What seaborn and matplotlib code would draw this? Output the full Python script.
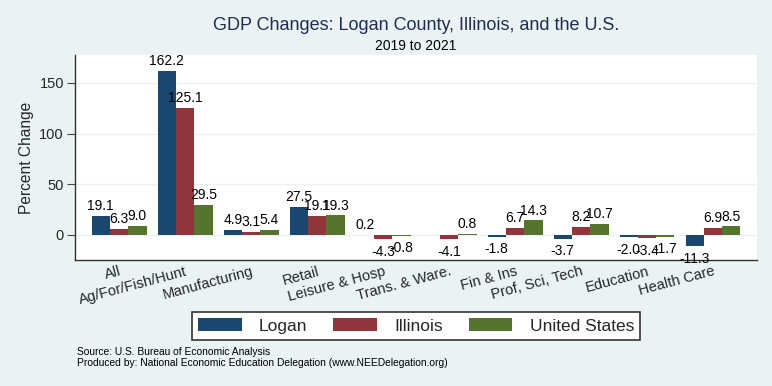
import numpy as np
import pandas as pd
import matplotlib
matplotlib.use("Agg")
from matplotlib import pyplot as plt
import seaborn as sns

sectors = ["All", "Ag/For/Fish/Hunt", "Manufacturing", "Retail", "Leisure & Hosp",
           "Trans. & Ware.", "Fin & Ins", "Prof, Sci, Tech", "Education", "Health Care"]
areas = ["Logan", "Illinois", "United States"]
logan = [19.1, 162.2, 4.9, 27.5, 0.2, np.nan, -1.8, -3.7, -2.0, -11.3]
illinois = [6.3, 125.1, 3.1, 19.1, -4.3, -4.1, 6.7, 8.2, -3.4, 6.9]
us = [9.0, 29.5, 5.4, 19.3, -0.8, 0.8, 14.3, 10.7, -1.7, 8.5]
colors = ["#1a476f", "#90353b", "#55752f"]

df = pd.DataFrame({"Sector": sectors * 3,
                   "Area": np.repeat(areas, len(sectors)),
                   "Change": logan + illinois + us})
df = df.dropna()

bg = "#eaf2f3"
sns.set_theme(style="white")
plt.rcParams["font.family"] = ["Liberation Sans", "DejaVu Sans"]

fig = plt.figure(figsize=(7.72, 3.86), dpi=100, facecolor=bg)
ax = fig.add_axes([0.0972, 0.3264, 0.8834, 0.5311])
ax.set_facecolor("white")

sns.barplot(data=df, x="Sector", y="Change", hue="Area", order=sectors,
            hue_order=areas, palette=colors, width=0.833, errorbar=None,
            saturation=1, edgecolor="none", linewidth=0, ax=ax, zorder=3)

for cont in ax.containers:
    vals = cont.datavalues
    pos = [f"{v:.1f}" if v >= 0 else "" for v in vals]
    neg = [f"{v:.1f}" if v < 0 else "" for v in vals]
    for t in ax.bar_label(cont, labels=pos, padding=2, fontsize=10, color="black"):
        t.set_zorder(6)
    for t in ax.bar_label(cont, labels=neg, padding=4, fontsize=10, color="black"):
        t.set_zorder(6)
        t.set_clip_on(False)

ax.set_xlim(-0.667, 9.667)
ax.set_ylim(-24.7, 177.6)
ax.set_yticks([0, 50, 100, 150])
ax.grid(axis="y", color=bg, linewidth=1, zorder=0)
ax.tick_params(axis="y", labelsize=10.5, length=6, width=0.8, color="#444444",
               left=True, pad=2)
ax.tick_params(axis="x", length=0, pad=3)
ax.set_xticks(range(len(sectors)))
ax.set_xticklabels(sectors, rotation=15, ha="right", va="top",
                   rotation_mode="anchor", fontsize=10.5)
ax.set_xlabel("")
ax.set_ylabel("Percent Change", fontsize=11.2, labelpad=4)

for side in ["top", "right"]:
    ax.spines[side].set_visible(False)
for side in ["left", "bottom"]:
    ax.spines[side].set_color("#333333")
    ax.spines[side].set_linewidth(1)
    ax.spines[side].set_zorder(2)

handles, labels = ax.get_legend_handles_labels()
ax.legend_.remove()
leg = fig.legend(handles, labels, loc="center", bbox_to_anchor=(0.539, 0.1554),
                 ncol=3, fontsize=12.5, frameon=True, fancybox=False,
                 edgecolor="#333333", facecolor="white", framealpha=1,
                 handlelength=2.5, handleheight=0.8, handletextpad=1.0,
                 columnspacing=1.5, borderpad=0.35)
leg.get_frame().set_linewidth(1.2)

fig.text(0.539, 0.935, "GDP Changes: Logan County, Illinois, and the U.S.",
         ha="center", va="center", fontsize=13, color="#1f2d55")
fig.text(0.539, 0.88, "2019 to 2021", ha="center", va="center", fontsize=10,
         color="black")
fig.text(0.1, 0.088, "Source: U.S. Bureau of Economic Analysis", fontsize=7.4,
         va="center", color="black")
fig.text(0.1, 0.059, "Produced by: National Economic Education Delegation (www.NEEDelegation.org)",
         fontsize=7.4, va="center", color="black")

fig.savefig("out.png", dpi=100, facecolor=bg)
